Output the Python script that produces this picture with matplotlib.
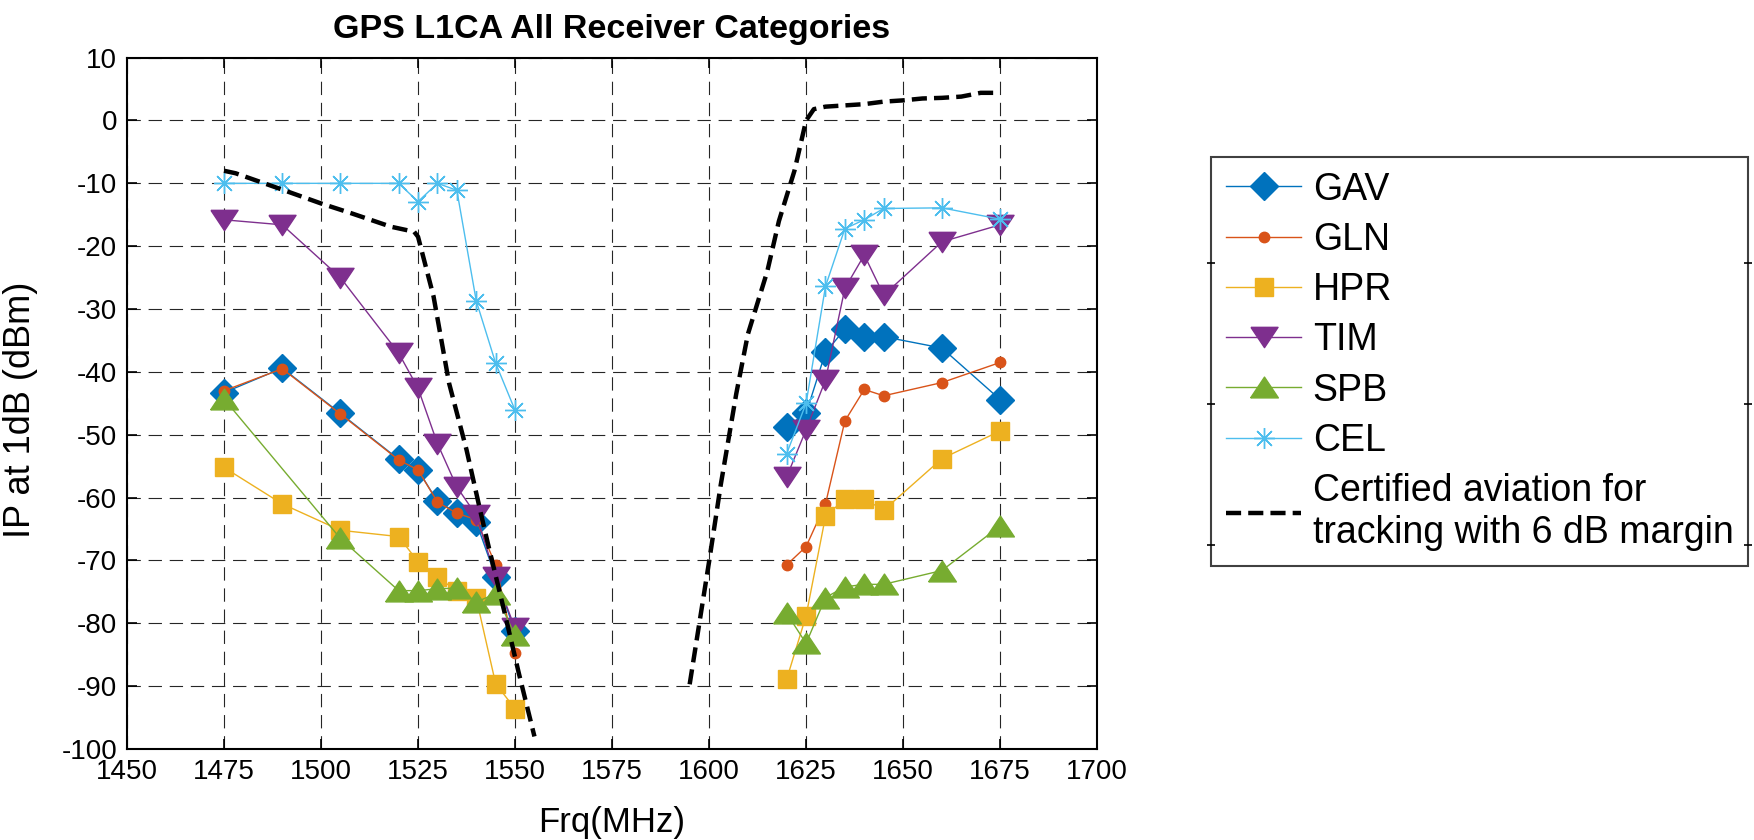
import numpy as np
import matplotlib
matplotlib.use("Agg")
import matplotlib.pyplot as plt
from matplotlib import font_manager

# data
frq_left = [1475, 1490, 1505, 1520, 1525, 1530, 1535, 1540, 1545, 1550]
frq_right = [1620, 1625, 1630, 1635, 1640, 1645, 1660, 1675]

gav_left = [-43.3, -39.4, -46.6, -53.9, -55.6, -60.6, -62.4, -63.9, -72.6, -81.3]
gav_right = [-48.7, -46.6, -36.9, -33.2, -34.4, -34.4, -36.2, -44.4]

gln_left = [-43.0, -39.5, -46.7, -54.0, -55.6, -60.7, -62.5, -63.5, -70.7, -84.7]
gln_right = [-70.7, -67.8, -61.0, -47.8, -42.8, -43.8, -41.7, -38.5]

hpr_left = [-55.2, -61.0, -65.2, -66.2, -70.2, -72.7, -74.8, -76.0, -89.6, -93.6]
hpr_right = [-88.9, -78.8, -63.0, -60.2, -60.2, -62.0, -53.8, -49.4]

tim_left = [-15.8, -16.6, -25.0, -37.0, -42.6, -51.4, -58.3, -62.8, -72.6, -80.8]
tim_right = [-56.7, -49.2, -41.3, -26.7, -21.4, -27.8, -19.3, -16.6]

spb_frq_left = [1475, 1505, 1520, 1525, 1530, 1535, 1540, 1545, 1550]
spb_left = [-44.3, -66.5, -74.8, -74.8, -74.5, -74.4, -76.6, -75.3, -81.9]
spb_right = [-78.4, -83.2, -75.9, -74.2, -73.8, -73.8, -71.6, -64.5]

cel_left = [-10.0, -10.0, -10.0, -10.0, -12.9, -10.0, -11.1, -28.7, -38.6, -46.1]
cel_right = [-53.0, -45.0, -26.4, -17.2, -15.8, -14.0, -13.9, -15.7]

mask_frq_left = [1475, 1478, 1490, 1500, 1508, 1518, 1524, 1525, 1529, 1533,
                 1537.5, 1541, 1543, 1547, 1551, 1555]
mask_left = [-8.0, -8.4, -11.0, -13.2, -14.8, -16.9, -17.7, -18.5, -28.0, -41.8,
             -52.4, -62.0, -67.3, -77.5, -88.0, -98.0]
mask_frq_right = [1595, 1600, 1603, 1607, 1610, 1615, 1618, 1622, 1625, 1627,
                  1630, 1635, 1640, 1645, 1650, 1655, 1660, 1665, 1670, 1675]
mask_right = [-89.7, -70.2, -58.0, -43.5, -34.0, -24.0, -16.0, -8.0, 0.0, 1.8,
              2.2, 2.4, 2.6, 3.0, 3.2, 3.5, 3.6, 3.8, 4.4, 4.4]

names = {f.name for f in font_manager.fontManager.ttflist}
narrow = 'Liberation Sans Narrow' if 'Liberation Sans Narrow' in names else 'Liberation Sans'
plt.rcParams['font.family'] = ['Liberation Sans', 'DejaVu Sans']
plt.rcParams['axes.unicode_minus'] = False


def join(a, b):
    return list(a) + [np.nan] + list(b)


fx = join(frq_left, frq_right)
spb_x = join(spb_frq_left, frq_right)

# szersze trojkaty jak w MATLABie
tri_down = [(-1, 0.75), (1, 0.75), (0, -0.75), (-1, 0.75)]
tri_up = [(-1, -0.75), (1, -0.75), (0, 0.75), (-1, -0.75)]

fig = plt.figure(figsize=(17.54, 8.4), dpi=100)
ax = fig.add_axes([0.0724, 0.1083, 0.5531, 0.8231])

series = [
    ("GAV", fx, join(gav_left, gav_right), "#0072BD", "D", 14),
    ("GLN", fx, join(gln_left, gln_right), "#D95319", "o", 7.5),
    ("HPR", fx, join(hpr_left, hpr_right), "#EDB120", "s", 13.5),
    ("TIM", fx, join(tim_left, tim_right), "#7E2F8E", tri_down, 19.5),
    ("SPB", spb_x, join(spb_left, spb_right), "#77AC30", tri_up, 20),
    ("CEL", fx, join(cel_left, cel_right), "#4DBEEE", (8, 2, 0), 15),
]
for name, x, y, c, m, ms in series:
    if name == "CEL":
        ax.plot(x, y, color=c, lw=1.0, marker=m, ms=ms, mec=c, mew=1.0, label=name)
    else:
        ax.plot(x, y, color=c, lw=1.0, marker=m, ms=ms, mfc=c, mec=c, label=name)

ax.plot(join(mask_frq_left, mask_frq_right), join(mask_left, mask_right),
        color="black", lw=3.2, ls=(0, (3.4, 1.6)),
        label="Certified aviation for\ntracking with 6 dB margin")

ax.set_xlim(1450, 1700)
ax.set_ylim(-100, 10)
ax.set_xticks(np.arange(1450, 1701, 25))
ax.set_yticks(np.arange(-100, 11, 10))
ax.grid(True, color="#262626", lw=0.8, ls=(0, (12, 7)))
ax.set_axisbelow(True)
ax.tick_params(direction="in", length=7, width=1.2, top=True, right=True,
               labelsize=20, pad=7)
for lab in ax.get_xticklabels():
    lab.set_family(narrow)
for s in ax.spines.values():
    s.set_linewidth(1.5)

ax.set_title("GPS L1CA All Receiver Categories", fontsize=24.5, fontweight="bold",
             family=narrow, pad=14)
ax.set_xlabel("Frq(MHz)", fontsize=25, family=narrow, labelpad=15)
ax.set_ylabel("IP at 1dB (dBm)", fontsize=26)
ax.yaxis.set_label_coords(-0.092, 0.49)

leg = ax.legend(loc="upper left", bbox_to_anchor=(0.6907, 0.8136),
                bbox_transform=fig.transFigure, borderaxespad=0, borderpad=0.4,
                fontsize=27, handlelength=2.0, handletextpad=0.3, labelspacing=0.38,
                fancybox=False, framealpha=1, edgecolor="#404040")
leg.get_frame().set_linewidth(1.5)

# drobne znaczniki na krawedziach legendy
fig.canvas.draw()
bb = leg.get_window_extent().transformed(fig.transFigure.inverted())
ax2 = fig.add_axes([bb.x0, bb.y0, bb.width, bb.height], facecolor="none")
ax2.set_ylim(0, 1)
ax2.set_xticks([])
ax2.set_yticks([0.05, 0.394, 0.739])
ax2.tick_params(axis="y", direction="inout", length=6, width=1.2, left=True, right=True,
                labelleft=False)
for s in ax2.spines.values():
    s.set_visible(False)

fig.savefig("out.png", dpi=100)
